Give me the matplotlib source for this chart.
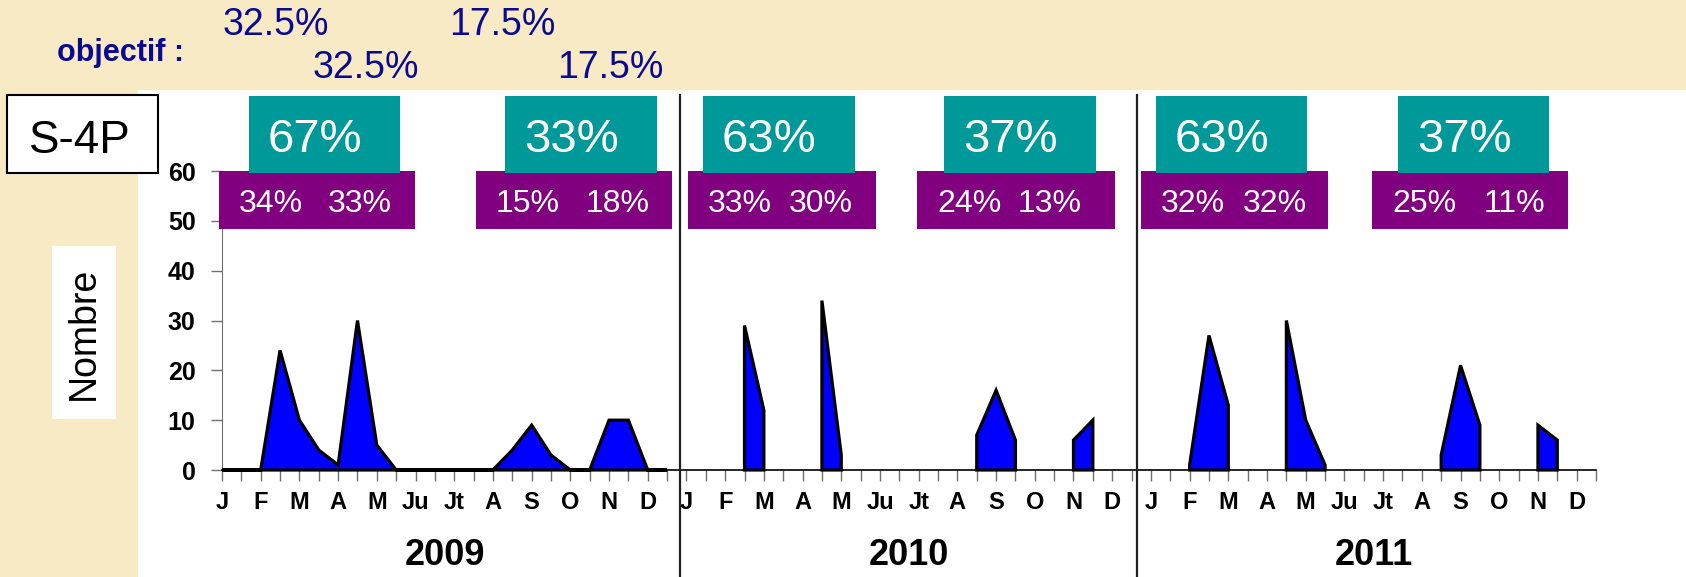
import numpy as np
import matplotlib.pyplot as plt
from matplotlib.patches import Rectangle
from matplotlib.lines import Line2D
import matplotlib.transforms as mtrans

plt.rcParams['font.family'] = ['Liberation Sans', 'DejaVu Sans']

# ---- data ----
months = ['J', 'F', 'M', 'A', 'M', 'Ju', 'Jt', 'A', 'S', 'O', 'N', 'D']
years = ['2009', '2010', '2011']
nan = np.nan
# half-month counts (24 points per year), nan = no data
n2009 = [0, 0, 0, 24, 10, 4, 1, 30, 5, 0, 0, 0,
         0, 0, 0, 4, 9, 3, 0, 0, 10, 10, 0, 0]
n2010 = [nan, nan, nan, 29, 12, nan, nan, 34, 3, nan, nan, nan,
         nan, nan, nan, 7, 16, 6, nan, nan, 6, 10, nan, nan]
n2011 = [nan, nan, 1, 27, 13, nan, nan, 30, 10, 1, nan, nan,
         nan, nan, nan, 3, 21, 9, nan, nan, 9, 6, nan, nan]
big_pct = ['67%', '33%', '63%', '37%', '63%', '37%']
small_pct = [('34%', '33%'), ('15%', '18%'), ('33%', '30%'),
             ('24%', '13%'), ('32%', '32%'), ('25%', '11%')]
objectif_row1 = ['32.5%', '17.5%']
objectif_row2 = ['32.5%', '17.5%']

W, H = 1686, 577
fx = lambda x: x / W
fy = lambda y: 1 - y / H

BEIGE = '#F9EAC6'
TEAL = '#009999'
PURPLE = '#800080'
NAVY = '#0A0A90'

fig = plt.figure(figsize=(W / 100, H / 100), dpi=100, facecolor=BEIGE)

# white panel
fig.patches.append(Rectangle((fx(138), 0), 1 - fx(138), fy(90), transform=fig.transFigure,
                             facecolor='white', edgecolor='none', zorder=0))

ax = fig.add_axes([fx(222), fy(470), (1596 - 222) / W, (470 - 171) / H])
ax.set_zorder(1)
ax.set_facecolor('none')

series = [n2009, n2010, n2011]
for i, vals in enumerate(series):
    x = np.arange(24) + 24 * i
    y = np.array(vals, dtype=float)
    ok = ~np.isnan(y)
    start = None
    for k in range(25):
        if k < 24 and ok[k]:
            if start is None:
                start = k
        elif start is not None:
            xs = x[start:k]
            ys = y[start:k]
            ax.fill(np.r_[xs[0], xs, xs[-1]], np.r_[0, ys, 0], facecolor='#0000FF',
                    edgecolor='black', lw=2.3, clip_on=False, zorder=3)
            start = None

ax.set_xlim(0, 71)
ax.set_ylim(0, 60)
for s in ['top', 'right']:
    ax.spines[s].set_visible(False)
ax.spines['left'].set_color('#707070')
ax.spines['bottom'].set_color('black')
ax.spines['bottom'].set_linewidth(1.2)

ax.set_yticks(range(0, 61, 10))
ax.set_yticklabels([str(v) for v in range(0, 61, 10)], fontsize=18, fontweight='bold')
ax.tick_params(axis='y', length=8, width=1, color='#707070', pad=11)

ax.set_xticks(range(72))
ax.set_xticklabels([months[(i % 24) // 2] if i % 2 == 0 else '' for i in range(72)],
                   fontsize=17, fontweight='bold')
ax.tick_params(axis='x', length=8, width=1, color='#707070', pad=7)

# year labels
blend = mtrans.blended_transform_factory(ax.transData, fig.transFigure)
for i, yr in enumerate(years):
    fig.text(24 * i + 11.5, fy(565), yr, transform=blend, ha='center', va='baseline',
             fontsize=26, fontweight='bold')

# year separators
for xs in [23.67, 47.28]:
    fig.add_artist(Line2D([xs, xs], [0, fy(95)], transform=blend, color='#202020', lw=1.6, zorder=2))

# teal / purple boxes
teal_x = [(249, 400), (505, 657), (703, 855), (944, 1096), (1156, 1307), (1398, 1549)]
purple_x = [(219, 415), (476, 672), (688, 876), (917, 1115), (1141, 1328), (1372, 1568)]
second_off = [109, 110, 101, 101, 102, 112]
for k in range(6):
    px0, px1 = purple_x[k]
    fig.patches.append(Rectangle((fx(px0), fy(229)), (px1 - px0) / W, (229 - 171) / H,
                                 transform=fig.transFigure, facecolor=PURPLE, edgecolor='none', zorder=3))
    tx0, tx1 = teal_x[k]
    fig.patches.append(Rectangle((fx(tx0), fy(173)), (tx1 - tx0) / W, (173 - 96) / H,
                                 transform=fig.transFigure, facecolor=TEAL, edgecolor='none', zorder=3))
    fig.text(fx(tx0 + 19), fy(151.5), big_pct[k], color='white', fontsize=34, va='baseline', zorder=4)
    a, b = small_pct[k]
    fig.text(fx(px0 + 20), fy(211.5), a, color='white', fontsize=23, va='baseline', zorder=4)
    fig.text(fx(px0 + second_off[k]), fy(211.5), b, color='white', fontsize=23, va='baseline', zorder=4)

# objectif
fig.text(fx(57), fy(61.5), 'objectif :', color=NAVY, fontsize=22, fontweight='bold', va='baseline')
for txt, x0 in zip(objectif_row1, [223, 449]):
    fig.text(fx(x0), fy(35), txt, color=NAVY, fontsize=27, va='baseline')
for txt, x0 in zip(objectif_row2, [313, 557]):
    fig.text(fx(x0), fy(78.3), txt, color=NAVY, fontsize=27, va='baseline')

# S-4P box
fig.patches.append(Rectangle((fx(7), fy(173)), 151 / W, 78 / H, transform=fig.transFigure,
                             facecolor='white', edgecolor='black', lw=1.5, zorder=3))
fig.text(fx(80), fy(153.3), 'S-4P', fontsize=33, ha='center', va='baseline', zorder=4)

# Nombre label
fig.patches.append(Rectangle((fx(52), fy(419)), 64 / W, 173 / H, transform=fig.transFigure,
                             facecolor='white', edgecolor='none', zorder=3))
fig.text(fx(84), fy(333), 'Nombre', fontsize=27, rotation=90, ha='center', va='center', zorder=4)

fig.savefig('out.png', dpi=100, facecolor=BEIGE)
